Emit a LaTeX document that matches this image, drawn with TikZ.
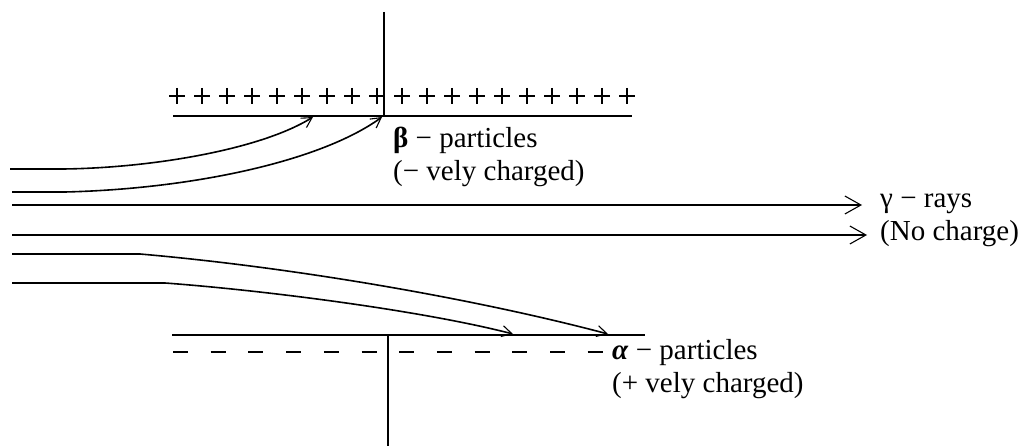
\documentclass[tikz,border=0pt]{standalone}
\usepackage{fontspec}
\setmainfont{Liberation Serif}
\usetikzlibrary{arrows.meta}

\begin{document}
\begin{tikzpicture}[
  x=1pt, y=-1pt,
  plate/.style={line width=1.6pt, black},
  ray/.style={line width=1.6pt, -{Straight Barb[length=10pt,width=11pt,line width=1.1pt]}},
  gamma ray/.style={line width=1.6pt, -{Straight Barb[length=16pt,width=18pt,line width=1.1pt]}},
  charge/.style={line width=1.7pt},
  lbl/.style={inner sep=0pt, anchor=west, align=left, font=\fontsize{29}{33}\selectfont}
]
\useasboundingbox (0,0) rectangle (1023,446);

% plates
\coordinate (topL) at (173,116);
\coordinate (topR) at (632,116);
\coordinate (botL) at (172,335);
\coordinate (botR) at (645,335);
\draw[plate] (topL) -- (topR);
\draw[plate] (384,12) -- (384,116);
\draw[plate] (botL) -- (botR);
\draw[plate] (388,335) -- (388,446);

% charges
\foreach \i in {0,...,18}
  \draw[charge] (169+25*\i,96) -- (185+25*\i,96) (177+25*\i,88) -- (177+25*\i,104);
\foreach \i in {0,...,11}
  \draw[charge] (173+37.7*\i,352) -- (188+37.7*\i,352);

% beta rays
\coordinate (b1s) at (10,169);
\coordinate (b1e) at (313,117);
\coordinate (b2s) at (12,192);
\coordinate (b2e) at (382,117);
\draw[ray] (b1s) -- (63,169) .. controls (150,168) and (260,150) .. (b1e);
\draw[ray] (b2s) -- (65,192) .. controls (190,189) and (320,162) .. (b2e);

% gamma rays
\coordinate (g1s) at (12,205);
\coordinate (g1e) at (862,205);
\coordinate (g2s) at (12,235);
\coordinate (g2e) at (867,235);
\draw[gamma ray] (g1s) -- (g1e);
\draw[gamma ray] (g2s) -- (g2e);

% alpha rays
\coordinate (a1s) at (12,254);
\coordinate (a1e) at (608,334);
\coordinate (a2s) at (12,283);
\coordinate (a2e) at (513,334);
\draw[ray] (a1s) -- (140,254) .. controls (300,268) and (480,300) .. (a1e);
\draw[ray] (a2s) -- (165,283) .. controls (260,290) and (420,310) .. (a2e);

% labels
\node[lbl] (beta)  at (393,157) {\textbf{β} − particles\\(− vely charged)};
\node[lbl] (gamma) at (880,220) {γ − rays\\(No charge)};
\node[lbl] (alpha) at (612,369) {\textbf{\textit{α}} − particles\\(+ vely charged)};
\end{tikzpicture}
\end{document}
